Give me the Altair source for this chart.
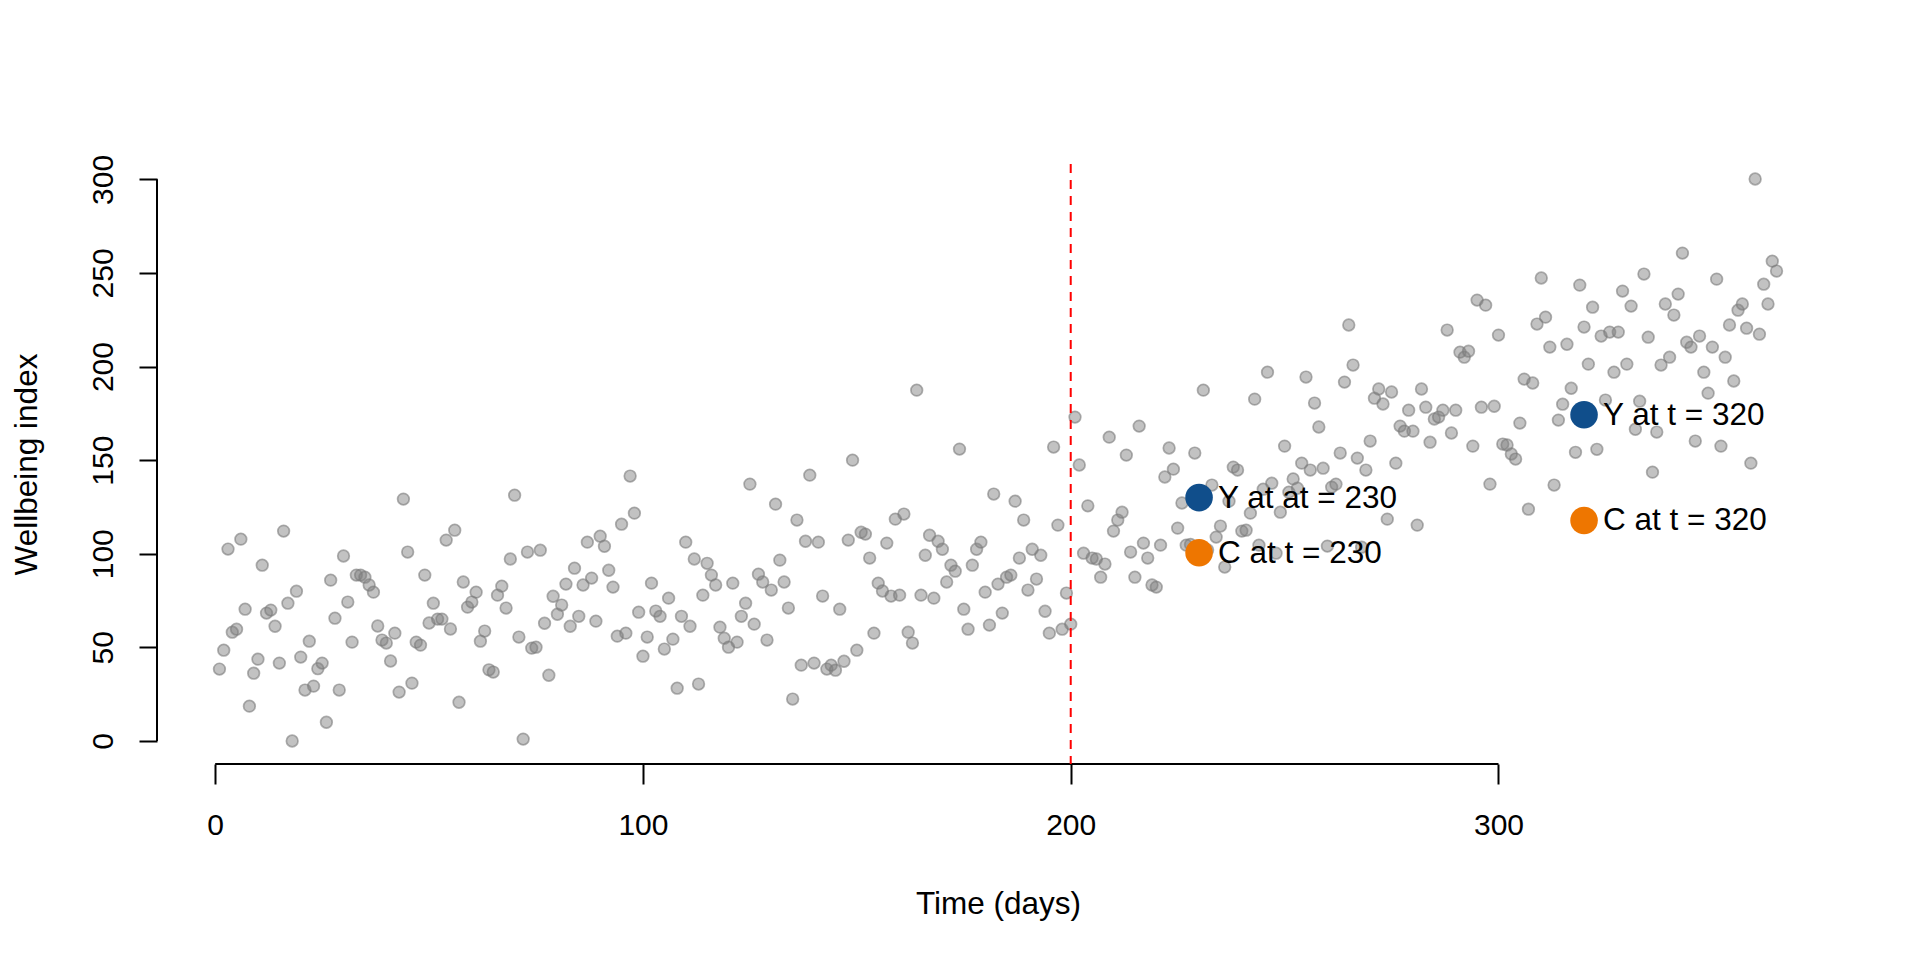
import altair as alt
import pandas as pd

days = list(range(1, 366))
wellbeing = [
    38.4, 48.5, 102.5, 58.1, 59.7, 107.8, 70.4, 18.6, 36.2, 43.7,
    93.9, 68.3, 69.9, 61.3, 41.6, 112.1, 73.6, 0.0, 80.0, 44.8,
    27.2, 53.3, 29.3, 38.6, 41.6, 10.0, 85.9, 65.6, 27.2, 98.8,
    74.2, 52.8, 88.6, 88.6, 87.5, 83.3, 79.5, 61.4, 53.9, 52.3,
    42.7, 57.6, 26.1, 129.2, 100.9, 30.9, 52.8, 51.2, 88.6, 63.0,
    73.6, 65.1, 65.1, 107.3, 59.8, 112.6, 20.7, 84.9, 71.5, 74.2,
    79.5, 53.3, 58.7, 38.0, 36.8, 77.9, 82.7, 71.0, 97.2, 131.3,
    55.5, 1.0, 100.9, 49.6, 50.1, 101.9, 62.9, 35.1, 77.3, 67.7,
    72.6, 83.8, 61.3, 92.3, 66.6, 83.3, 106.2, 87.0, 64.0, 109.4,
    104.0, 91.2, 82.2, 56.0, 115.8, 57.6, 141.5, 121.7, 68.8, 45.3,
    55.5, 84.3, 69.4, 66.6, 49.1, 76.3, 54.4, 28.2, 66.6, 106.2,
    61.3, 97.2, 30.4, 77.9, 94.9, 88.6, 83.3, 60.8, 54.9, 50.1,
    84.3, 52.8, 66.6, 73.6, 137.2, 62.4, 89.1, 84.9, 53.9, 80.6,
    126.5, 96.6, 84.9, 71.0, 22.4, 118.0, 40.5, 106.7, 142.0, 41.6,
    106.2, 77.4, 38.4, 40.5, 37.8, 70.4, 42.6, 107.3, 150.0, 48.5,
    111.5, 110.5, 97.7, 57.6, 84.3, 80.1, 105.7, 77.4, 118.5, 77.9,
    121.2, 58.1, 52.3, 187.4, 77.9, 99.2, 109.9, 76.3, 106.7, 102.4,
    84.9, 93.9, 90.7, 155.9, 70.4, 59.7, 93.9, 102.4, 106.2, 79.5,
    61.9, 131.9, 83.8, 68.3, 87.5, 88.6, 128.1, 97.7, 118.0, 80.6,
    102.4, 86.5, 99.2, 69.3, 57.6, 157.0, 115.3, 59.7, 79.0, 62.4,
    173.0, 147.4, 100.3, 125.6, 97.7, 97.2, 87.5, 94.5, 162.3, 112.1,
    118.0, 122.2, 152.7, 100.9, 87.5, 168.2, 105.7, 97.7, 83.3, 82.2,
    104.6, 141.0, 156.5, 145.2, 113.7, 127.1, 104.6, 105.0, 153.8, 131.0,
    187.4, 102.0, 136.7, 108.9, 114.8, 92.9, 128.1, 146.3, 144.7, 112.1,
    112.6, 121.7, 182.6, 104.6, 134.5, 197.0, 137.7, 100.3, 122.2, 157.5,
    132.9, 140.0, 135.0, 148.4, 194.4, 144.7, 180.5, 167.7, 145.7, 104.1,
    135.6, 137.2, 153.8, 191.7, 222.2, 200.8, 151.1, 103.5, 144.7, 160.2,
    183.1, 188.0, 180.0, 118.5, 186.4, 148.4, 168.2, 165.5, 176.7, 165.5,
    115.3, 188.0, 178.3, 159.6, 172.0, 173.0, 176.7, 219.5, 164.5, 176.7,
    207.7, 205.0, 208.2, 157.5, 235.5, 178.3, 232.8, 137.2, 178.8, 216.8,
    158.6, 158.1, 153.3, 150.6, 169.8, 193.3, 123.8, 191.2, 222.7, 247.3,
    226.4, 210.4, 136.7, 171.4, 179.9, 211.9, 188.4, 154.2, 243.5, 221.1,
    201.3, 231.7, 155.8, 216.3, 182.1, 218.4, 197.0, 218.4, 240.3, 201.3,
    232.3, 166.5, 181.5, 249.4, 215.7, 143.6, 165.0, 200.8, 233.4, 205.0,
    227.5, 238.7, 260.6, 213.0, 210.4, 160.2, 216.3, 197.0, 185.8, 210.4,
    246.7, 157.5, 205.0, 222.2, 192.3, 230.1, 233.4, 220.5, 148.4, 300.2,
    217.3, 244.0, 233.4, 256.3, 251.0,
]

x_ticks = [0, 100, 200, 300]
y_ticks = [0, 50, 100, 150, 200, 250, 300]
cutoff_day = [200]

mark_days = [230, 230, 320, 320]
mark_values = [130.0, 100.5, 174.3, 117.8]
mark_labels = ["Y at at = 230", "C at t = 230", "Y at t = 320", "C at t = 320"]
mark_colors = ["#104E8B", "#EE7600", "#104E8B", "#EE7600"]

W, H = 1682, 600
FONT = "Liberation Sans"
FS = 30
FS_TXT = 31.5

xs = alt.Scale(domain=[-13.6, 379.6], nice=False, zero=False)
ys = alt.Scale(domain=[-12.3, 308.2], nice=False, zero=False)

df = pd.DataFrame({"day": days[:len(wellbeing)], "value": wellbeing})
marks_df = pd.DataFrame({"day": mark_days, "value": mark_values,
                         "label": mark_labels, "color": mark_colors})
cut_df = pd.DataFrame({"day": cutoff_day})
xdom_df = pd.DataFrame({"a": [min(x_ticks)], "b": [max(x_ticks)]})
ydom_df = pd.DataFrame({"a": [min(y_ticks)], "b": [max(y_ticks)]})

x_axis = alt.Axis(values=x_ticks, domain=False, grid=False, tickSize=20, tickWidth=2,
                  tickColor="black", labelFont=FONT, labelFontSize=FS, labelColor="black",
                  labelPadding=26, labelFlush=False, labelOverlap=False,
                  title="Time (days)", titleFont=FONT, titleFontSize=FS_TXT,
                  titleFontWeight="normal", titleColor="black", titleY=140,
                  titleBaseline="middle", titleAlign="center")
y_axis = alt.Axis(values=y_ticks, domain=False, grid=False, tickSize=18, tickWidth=2,
                  tickColor="black", labelFont=FONT, labelFontSize=FS, labelColor="black",
                  labelAngle=270, labelAlign="center", labelBaseline="alphabetic",
                  labelPadding=27, labelFlush=False, labelOverlap=False,
                  title="Wellbeing index", titleFont=FONT, titleFontSize=FS_TXT,
                  titleFontWeight="normal", titleColor="black", titleAngle=270,
                  titleX=-130, titleY=H / 2, titleAlign="center", titleBaseline="middle")

points = alt.Chart(df).mark_circle(
    size=135, color="#808080", fillOpacity=0.48,
    stroke="#7a7a7a", strokeOpacity=0.6, strokeWidth=1.7
).encode(
    x=alt.X("day:Q", scale=xs, axis=x_axis),
    y=alt.Y("value:Q", scale=ys, axis=y_axis),
)

x_line = alt.Chart(xdom_df).mark_rule(color="black", strokeWidth=2).encode(
    x=alt.X("a:Q", scale=xs), x2="b:Q", y=alt.value(H))
y_line = alt.Chart(ydom_df).mark_rule(color="black", strokeWidth=2).encode(
    y=alt.Y("a:Q", scale=ys), y2="b:Q", x=alt.value(0))

cut = alt.Chart(cut_df).mark_rule(color="#FF0000", strokeWidth=2, strokeDash=[9, 7]).encode(
    x=alt.X("day:Q", scale=xs), y=alt.value(0), y2=alt.value(H))

big = alt.Chart(marks_df).mark_circle(size=760, opacity=1).encode(
    x=alt.X("day:Q", scale=xs), y=alt.Y("value:Q", scale=ys),
    color=alt.Color("color:N", scale=None))

labels = alt.Chart(marks_df).mark_text(
    align="left", baseline="middle", dx=19, dy=1, font=FONT, fontSize=FS_TXT, color="black"
).encode(x=alt.X("day:Q", scale=xs), y=alt.Y("value:Q", scale=ys), text="label:N")

chart = alt.layer(points, x_line, y_line, cut, big, labels).properties(
    width=W, height=H,
    autosize=alt.AutoSizeParams(type="none"),
    padding={"left": 149, "top": 156, "right": 60, "bottom": 180},
).configure_view(strokeWidth=0)

chart.save("out.html", embed_options={"renderer": "svg", "actions": False})
